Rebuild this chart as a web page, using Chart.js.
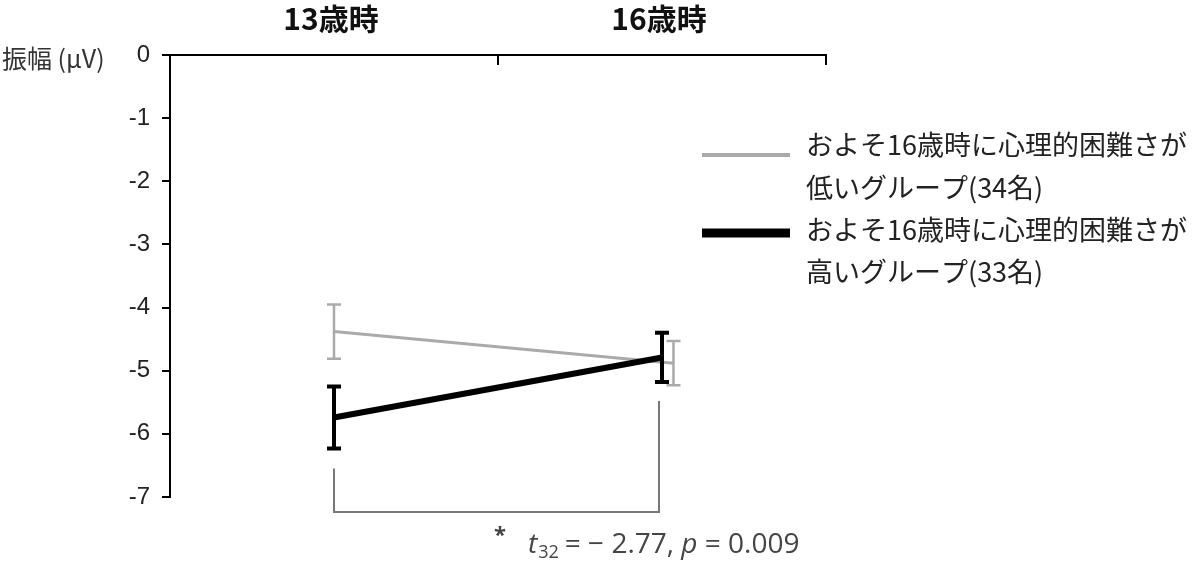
<!DOCTYPE html>
<html>
<head>
<meta charset="utf-8">
<script src="https://cdn.jsdelivr.net/npm/chart.js@4"></script>
<style>
  html, body { margin: 0; padding: 0; background: #fff; }
  #wrap { width: 1200px; height: 561px; position: relative; }
</style>
</head>
<body>
<div id="wrap"><canvas id="lineChart"></canvas></div>
<script>
const categories = ['13歳時', '16歳時'];
const seriesNames = [
  ['およそ16歳時に心理的困難さが', '低いグループ(34名)'],
  ['およそ16歳時に心理的困難さが', '高いグループ(33名)']
];
const lowMeans = [-4.38, -4.88];
const lowErrors = [0.43, 0.35];
const highMeans = [-5.74, -4.79];
const highErrors = [0.49, 0.39];
const yTickValues = [0, -1, -2, -3, -4, -5, -6, -7];
const yLabel = '振幅 (μV)';

const jp = '"Noto Sans CJK JP", "Liberation Sans", sans-serif';
const lowShift = 0.035; // small sideways nudge of the grey points

function points(values, shift) {
  return values.map((v, i) => ({ x: i + (i > 0 ? shift : 0), y: v }));
}

const extras = {
  id: 'extras',
  afterDatasetsDraw(chart) {
    const ctx = chart.ctx;
    const xs = chart.scales.x, ys = chart.scales.y;
    const area = chart.chartArea;

    // error bars
    chart.data.datasets.forEach(ds => {
      ctx.save();
      ctx.strokeStyle = ds.borderColor;
      ctx.lineWidth = ds.errWidth;
      ds.data.forEach((p, i) => {
        const e = ds.errors[i];
        const x = xs.getPixelForValue(p.x);
        const y1 = ys.getPixelForValue(p.y + e);
        const y2 = ys.getPixelForValue(p.y - e);
        ctx.beginPath();
        ctx.moveTo(x, y1); ctx.lineTo(x, y2);
        ctx.moveTo(x - 7, y1); ctx.lineTo(x + 7, y1);
        ctx.moveTo(x - 7, y2); ctx.lineTo(x + 7, y2);
        ctx.stroke();
      });
      ctx.restore();
    });

    // downward tick marks on the top axis
    ctx.save();
    ctx.strokeStyle = '#000';
    ctx.lineWidth = 2;
    [0.5, 1.5].forEach(v => {
      const x = xs.getPixelForValue(v);
      ctx.beginPath();
      ctx.moveTo(x, area.top); ctx.lineTo(x, area.top + 10);
      ctx.stroke();
    });
    ctx.restore();

    // significance bracket
    const xa = xs.getPixelForValue(0);
    const xb = xs.getPixelForValue(1) - 3;
    const ya = ys.getPixelForValue(highMeans[0] - highErrors[0]) + 20;
    const yb = ys.getPixelForValue(highMeans[1] - highErrors[1]) + 19;
    const yBottom = area.bottom + 15;
    ctx.save();
    ctx.strokeStyle = '#777';
    ctx.lineWidth = 2;
    ctx.beginPath();
    ctx.moveTo(xa, ya); ctx.lineTo(xa, yBottom); ctx.lineTo(xb, yBottom); ctx.lineTo(xb, yb);
    ctx.stroke();

    ctx.fillStyle = '#444';
    ctx.textBaseline = 'alphabetic';
    let tx = 528, ty = 553;
    ctx.font = 'bold 22px "Open Sans", sans-serif';
    ctx.fillText('*', 494, 542);
    ctx.font = 'italic 28px "Open Sans", sans-serif';
    ctx.fillText('t', tx, ty); tx += ctx.measureText('t').width + 1;
    ctx.font = '18px "Open Sans", sans-serif';
    ctx.fillText('32', tx, ty + 5); tx += ctx.measureText('32').width + 6;
    ctx.font = '28px "Open Sans", sans-serif';
    const mid = '= − 2.77, ';
    ctx.fillText(mid, tx, ty); tx += ctx.measureText(mid).width;
    ctx.font = 'italic 28px "Open Sans", sans-serif';
    ctx.fillText('p', tx, ty); tx += ctx.measureText('p').width;
    ctx.font = '28px "Open Sans", sans-serif';
    ctx.fillText(' = 0.009', tx, ty);
    ctx.restore();

    // category labels above the axis
    ctx.save();
    ctx.fillStyle = '#111';
    ctx.font = 'bold 30px ' + jp;
    ctx.textAlign = 'center';
    ctx.textBaseline = 'middle';
    categories.forEach((c, i) => ctx.fillText(c, xs.getPixelForValue(i) - 3, 19));
    ctx.restore();

    // y axis label
    ctx.save();
    ctx.fillStyle = '#333';
    ctx.font = '25px ' + jp;
    ctx.textBaseline = 'middle';
    ctx.fillText(yLabel, 2, area.top + 3);
    ctx.restore();

    // legend
    ctx.save();
    const rows = [[145, 188, 155], [230, 272, 233]];
    chart.data.datasets.forEach((ds, k) => {
      ctx.strokeStyle = ds.borderColor;
      ctx.lineWidth = ds.legendWidth;
      ctx.beginPath();
      ctx.moveTo(702, rows[k][2]); ctx.lineTo(790, rows[k][2]);
      ctx.stroke();
      ctx.fillStyle = '#222';
      ctx.font = '27px ' + jp;
      ctx.textBaseline = 'middle';
      ctx.fillText(seriesNames[k][0], 806, rows[k][0]);
      ctx.fillText(seriesNames[k][1], 806, rows[k][1]);
    });
    ctx.restore();
  }
};

const ctx = document.getElementById('lineChart').getContext('2d');
new Chart(ctx, {
  type: 'line',
  data: {
    datasets: [
      {
        label: seriesNames[0].join(''),
        data: points(lowMeans, lowShift),
        errors: lowErrors,
        borderColor: '#aaaaaa',
        borderWidth: 3,
        errWidth: 2.5,
        legendWidth: 4,
        pointRadius: 0,
        order: 2
      },
      {
        label: seriesNames[1].join(''),
        data: points(highMeans, 0),
        errors: highErrors,
        borderColor: '#000000',
        borderWidth: 6,
        errWidth: 4,
        legendWidth: 9,
        pointRadius: 0,
        order: 1
      }
    ]
  },
  options: {
    responsive: true,
    maintainAspectRatio: false,
    animation: false,
    layout: { padding: { left: 0, top: 0, right: 374, bottom: 64 } },
    plugins: {
      legend: { display: false },
      tooltip: { enabled: false }
    },
    scales: {
      x: {
        type: 'linear',
        position: 'top',
        min: -0.5,
        max: 1.5,
        afterFit: s => { s.height = 55; },
        ticks: { display: false },
        grid: { display: false },
        border: { display: true, color: '#000', width: 2 }
      },
      y: {
        min: -7,
        max: 0,
        afterFit: s => { s.width = 170; },
        afterBuildTicks: s => { s.ticks = yTickValues.map(v => ({ value: v })); },
        ticks: {
          color: '#222',
          font: { family: '"Liberation Sans", Arial, sans-serif', size: 24 },
          padding: 12
        },
        grid: { drawOnChartArea: false, color: '#000', tickLength: 8, lineWidth: 2 },
        border: { display: true, color: '#000', width: 2 }
      }
    }
  },
  plugins: [extras]
});
</script>
</body>
</html>
